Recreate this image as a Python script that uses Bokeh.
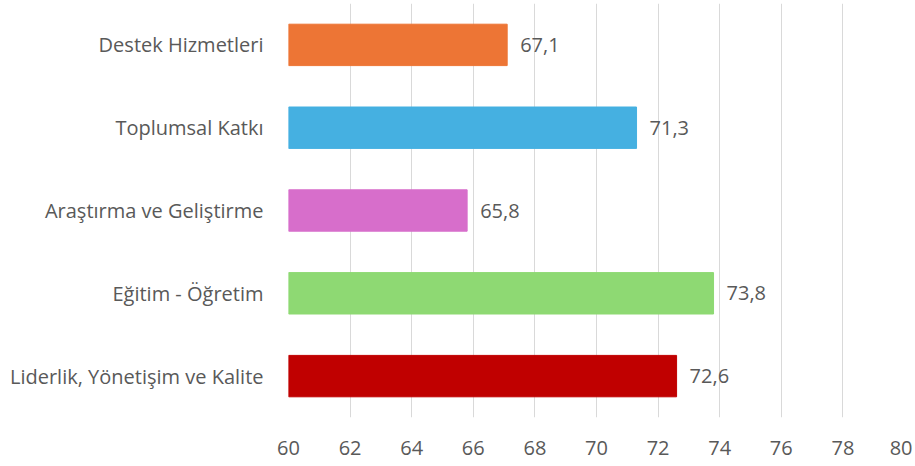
from bokeh.plotting import figure
from bokeh.models import ColumnDataSource, FixedTicker, Range1d, FactorRange
from bokeh.core.properties import value
from bokeh.embed import file_html
from bokeh.resources import INLINE

categories = ["Liderlik, Yönetişim ve Kalite", "Eğitim - Öğretim",
              "Araştırma ve Geliştirme", "Toplumsal Katkı", "Destek Hizmetleri"]
scores = [72.6, 73.8, 65.8, 71.3, 67.1]
colors = ["#C00000", "#8ED973", "#D76ECB", "#45B0E1", "#ED7535"]
x_ticks = [60, 62, 64, 66, 68, 70, 72, 74, 76, 78, 80]

FONT = "Open Sans"
GREY = "#595959"

src = ColumnDataSource(dict(
    cat=categories, val=scores, col=colors,
    lbl=[f"{v:.1f}".replace(".", ",") for v in scores],
))

p = figure(width=912, height=462, output_backend="svg", toolbar_location=None,
           y_range=FactorRange(*categories, range_padding=0),
           x_range=Range1d(60, 80),
           min_border_left=288, min_border_right=8, min_border_top=3, min_border_bottom=45)
p.outline_line_color = None
p.background_fill_color = "white"
p.border_fill_color = "white"

p.hbar(y="cat", left=60, right="val", height=0.5, color="col", source=src)
p.text(x="val", y="cat", text="lbl", source=src, x_offset=13,
       text_baseline="middle", text_align="left", text_color=GREY,
       text_font=value(FONT), text_font_size="20px")

p.xgrid.ticker = FixedTicker(ticks=x_ticks)
p.xgrid.grid_line_color = "#D9D9D9"
p.xgrid.grid_line_width = 1
p.ygrid.grid_line_color = None

p.xaxis.ticker = FixedTicker(ticks=x_ticks)
p.xaxis.axis_line_color = None
p.xaxis.major_tick_line_color = None
p.xaxis.minor_tick_line_color = None
p.xaxis.major_label_standoff = 17
p.xaxis.major_label_text_font = FONT
p.xaxis.major_label_text_font_size = "20px"
p.xaxis.major_label_text_color = GREY

p.yaxis.axis_line_color = None
p.yaxis.major_tick_line_color = None
p.yaxis.minor_tick_line_color = None
p.yaxis.major_label_standoff = 19
p.yaxis.major_label_text_font = FONT
p.yaxis.major_label_text_font_size = "20px"
p.yaxis.major_label_text_color = GREY

open("out.html", "w").write(file_html(p, INLINE))
